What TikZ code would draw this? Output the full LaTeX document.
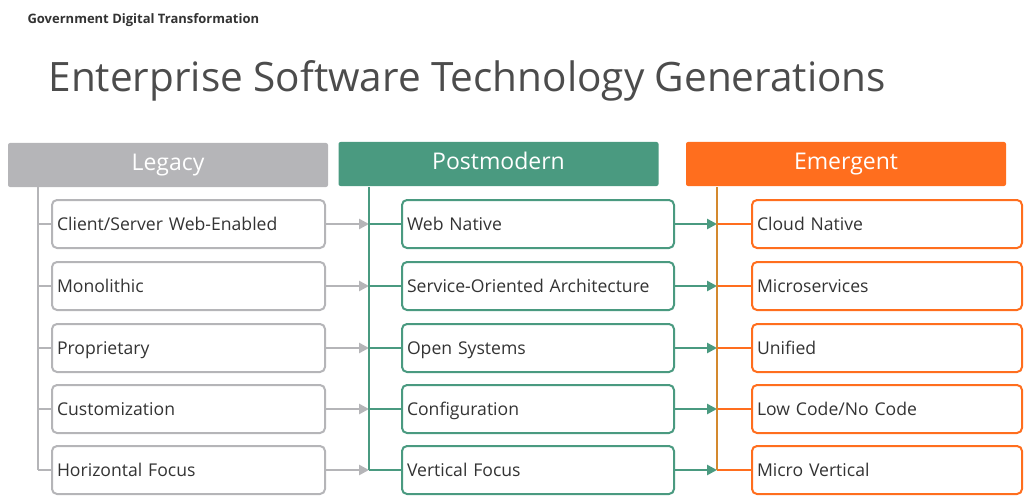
\documentclass[tikz,border=0pt]{standalone}
\usepackage{fontspec}
\setmainfont{Open Sans}
\usetikzlibrary{arrows.meta}
\definecolor{legacygray}{HTML}{B5B5B8}
\definecolor{postgreen}{HTML}{4A9A80}
\definecolor{emerorange}{HTML}{FF6E1E}
\definecolor{emerline}{HTML}{D4892E}
\definecolor{textgray}{HTML}{333333}
\tikzset{
  head/.style={rounded corners=2pt,minimum width=320pt,minimum height=44pt,text height=16pt,text depth=5pt,text=white,font=\fontsize{23}{26}\selectfont},
  item/.style={draw,line width=2pt,rounded corners=5pt,minimum height=48pt,text width=#1,text height=14pt,text depth=2pt,inner sep=5pt,align=left,text=textgray,font=\fontsize{17.6}{20}\selectfont},
  conn/.style={line width=2.6pt,-{Triangle[length=10pt,width=10pt]}}
}
\begin{document}
\begin{tikzpicture}[x=1pt,y=-1pt]
\useasboundingbox (0,0) rectangle (1024,497);
\node[anchor=west,text=textgray,font=\bfseries\fontsize{13}{15}\selectfont] (top) at (24,20) {Government Digital Transformation};
\node[anchor=west,text=black!70,font=\fontsize{40.5}{46}\selectfont] (title) at (45,81) {Enterprise Software Technology Generations};
% column heads
\node[head,fill=legacygray] (hleg) at (168,165) {Legacy};
\node[head,fill=postgreen] (hpost) at (498.5,164) {Postmodern};
\node[head,fill=emerorange] (hemer) at (846,164) {Emergent};
\coordinate (bl) at (38,187);
\coordinate (bp) at (369,187);
\coordinate (be) at (717,187);
% rows
\foreach \i/\y/\a/\b/\c in {1/224/Client\slash Server Web-Enabled/Web Native/Cloud Native,
  2/286/Monolithic/Service-Oriented Architecture/Microservices,
  3/348/Proprietary/Open Systems/Unified,
  4/409/Customization/Configuration/Low Code\slash No Code,
  5/470/Horizontal Focus/Vertical Focus/Micro Vertical}{
  \node[item=263pt,draw=legacygray,anchor=west] (l\i) at (51,\y) {\a};
  \node[item=262pt,draw=postgreen,anchor=west] (p\i) at (401,\y) {\b};
  \node[item=260pt,draw=emerorange,anchor=west] (e\i) at (751,\y) {\c};
  \coordinate (cl\i) at (38,\y);
  \coordinate (cp\i) at (369,\y);
  \coordinate (ce\i) at (717,\y);
  \draw[legacygray,line width=2pt] (cl\i) -- (l\i.west);
  \draw[postgreen,line width=2pt] (cp\i) -- (p\i.west);
  \draw[emerorange,line width=2pt] (ce\i) -- (e\i.west);
  \draw[conn,legacygray] (l\i.east) -- (cp\i);
  \draw[conn,postgreen] (p\i.east) -- (ce\i);
}
\draw[legacygray,line width=2pt] (bl) -- (cl5);
\draw[postgreen,line width=2pt] (bp) -- (cp5);
\draw[emerline,line width=2pt] (be) -- (ce5);
\end{tikzpicture}
\end{document}
